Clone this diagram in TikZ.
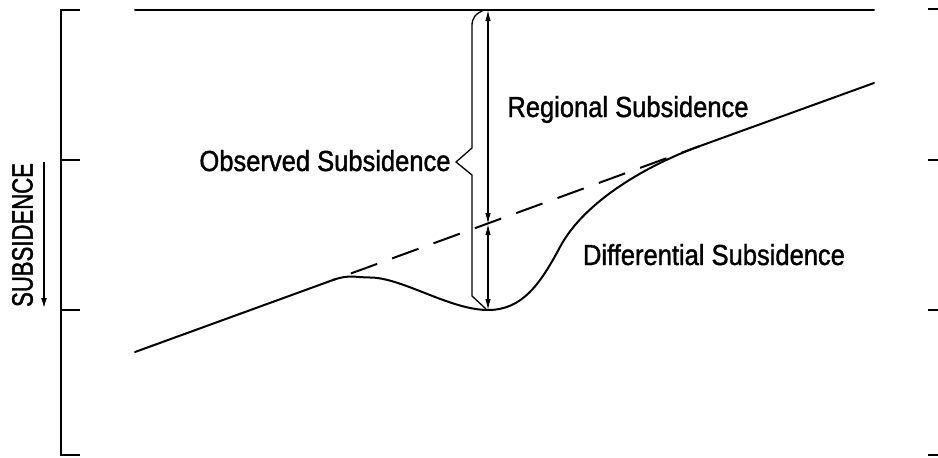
\documentclass[tikz,border=0pt]{standalone}
\usepackage{fontspec}
\newfontfamily\labfont[FakeStretch=0.88,FakeBold=1.3]{Liberation Sans}
\newfontfamily\axfont[FakeStretch=0.75,FakeBold=1.3]{Liberation Sans}
\usetikzlibrary{arrows.meta}
\begin{document}
\begin{tikzpicture}[x=1pt,y=-1pt,
  thickline/.style={line width=2pt, line cap=round, line join=round},
  axisline/.style={line width=2pt},
  dimarrow/.style={line width=1.1pt, {Latex[length=11pt,width=5.5pt]}-{Latex[length=11pt,width=5.5pt]}},
  bracepath/.style={line width=1.3pt, line join=round},
  lab/.style={font=\labfont\fontsize{29}{30}\selectfont, inner sep=0pt, anchor=base},
  axlab/.style={font=\axfont\fontsize{29.5}{30}\selectfont, inner sep=0pt, rotate=90},
]
\useasboundingbox (0,0) rectangle (938,458);
% left axis
\draw[axisline] (80,10) -- (61,10) -- (61,455) -- (80,455);
\draw[axisline] (61,160) -- (80,160) (61,310) -- (80,310);
% right ticks
\foreach \yy in {9,160,310,455} \draw[axisline] (928,\yy) -- (938,\yy);
% coordinates
\coordinate (L0) at (135,352);
\coordinate (L1) at (874,83);
\coordinate (A) at (333,280);
\coordinate (B) at (700,146);
\coordinate (X) at (488,224);
\coordinate (M) at (488,310);
\coordinate (T) at (488,10);
\coordinate (H0) at (135,10);
\coordinate (H1) at (874,10);
% top line
\draw[thickline] (H0) -- (H1);
% observed profile
\draw[thickline] (L0) -- (A) .. controls (349,274.2) and (356,277.5) .. (370,277.5)
  .. controls (402,277.5) and (450,310) .. (M)
  .. controls (522,310) and (540,284.6) .. (560,247)
  .. controls (585,200) and (650,164) .. (B) -- (L1);
% regional trend (dashed)
\draw[line width=2pt, dash pattern=on 28pt off 16pt, dash phase=25pt] (A) -- (B);
% dimension arrows
\draw[dimarrow] (T) -- (X);
\draw[dimarrow] (X) -- (M);
% brace
\draw[bracepath] (484,10) .. controls (475,14) and (472,18) .. (472,26) -- (472,148) -- (456,162) -- (472,175) -- (472,296) -- (486,309);
% labels
\node[lab] (reg) at (628,117) {Regional Subsidence};
\node[lab] (dif) at (714,265) {Differential Subsidence};
\node[lab] (obs) at (325,171) {Observed Subsidence};
\node[axlab] (sub) at (22.5,235) {SUBSIDENCE};
\coordinate (S0) at (44,162);
\coordinate (S1) at (44,308);
\draw[line width=1.3pt, -{Latex[length=10pt,width=6pt]}] (S0) -- (S1);
\end{tikzpicture}
\end{document}
